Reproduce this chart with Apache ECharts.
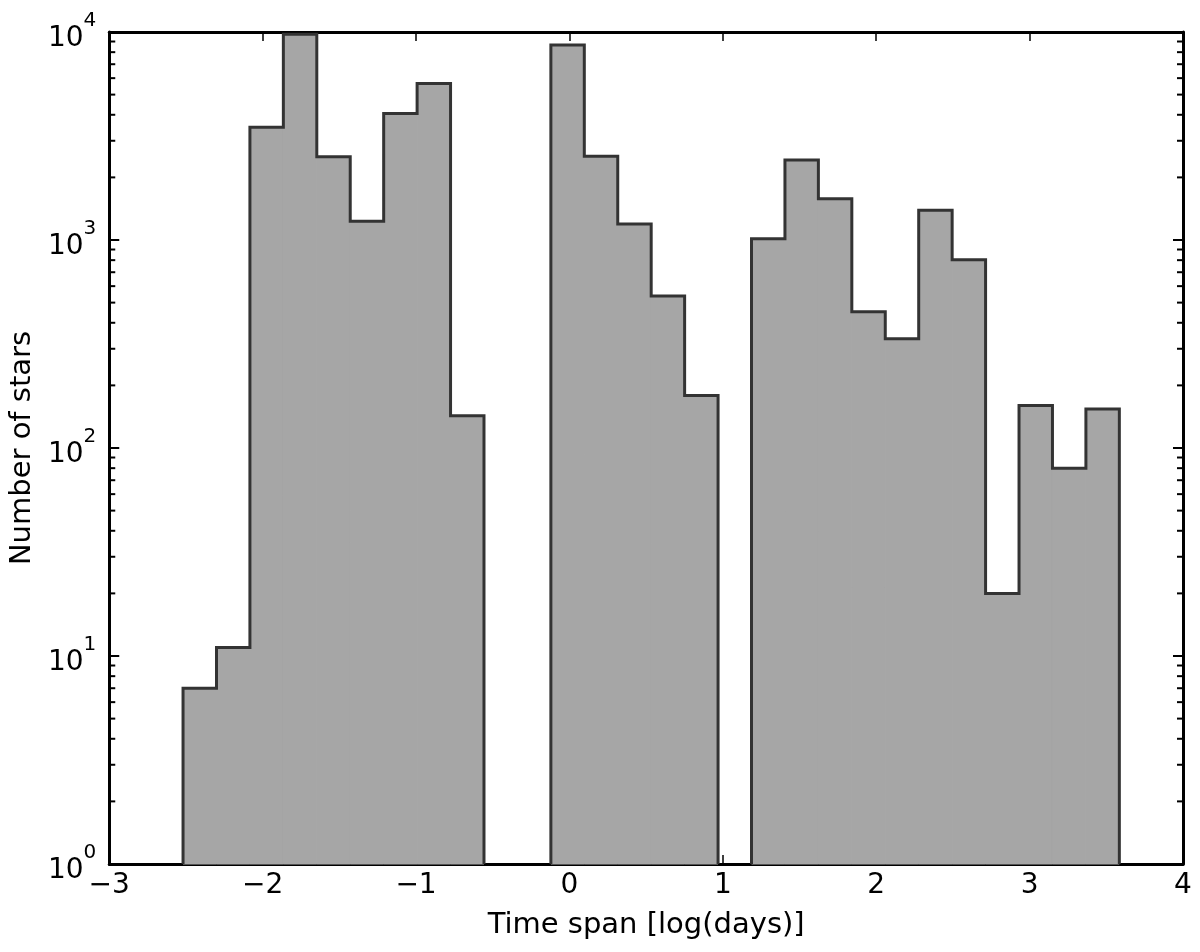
<!DOCTYPE html>
<html>
<head>
<meta charset="utf-8">
<script src="https://cdn.jsdelivr.net/npm/echarts@6/dist/echarts.min.js"></script>
<style>
  html, body { margin: 0; padding: 0; background: #fff; }
  #main { width: 1200px; height: 952px; }
</style>
</head>
<body>
<div id="main"></div>
<script>
// histogram bins (log days) and star counts
const binEdges = [-2.519, -2.301, -2.083, -1.865, -1.647, -1.429, -1.211, -0.993, -0.775, -0.557,
    -0.339, -0.121, 0.097, 0.315, 0.533, 0.751, 0.969, 1.187, 1.405, 1.623,
    1.841, 2.059, 2.277, 2.495, 2.713, 2.931, 3.149, 3.367, 3.585];
const counts = [7, 11, 3480, 9750, 2510, 1230, 4060, 5660, 143, 0,
    0, 8650, 2530, 1195, 538, 179, 0, 1015, 2425, 1580,
    452, 335, 1390, 804, 20, 160, 80, 154];
const xTicks = [-3, -2, -1, 0, 1, 2, 3, 4];
const yTicks = [1, 10, 100, 1000, 10000];
const yMinorTicks = [2, 3, 4, 5, 6, 7, 8, 9,
    20, 30, 40, 50, 60, 70, 80, 90,
    200, 300, 400, 500, 600, 700, 800, 900,
    2000, 3000, 4000, 5000, 6000, 7000, 8000, 9000];

const FONT = 'DejaVu Sans';

let myChart = echarts.init(document.getElementById('main'));

// step outline of the histogram, broken at empty bins
let outline = [];
for (let i = 0; i < counts.length; i++) {
    if (counts[i] <= 0) continue;
    if (i === 0 || counts[i - 1] <= 0) outline.push([binEdges[i], 1]);
    outline.push([binEdges[i], counts[i]]);
    outline.push([binEdges[i + 1], counts[i]]);
    if (i === counts.length - 1 || counts[i + 1] <= 0) {
        outline.push([binEdges[i + 1], 1]);
        outline.push([binEdges[i + 1], '-']);
    }
}

let binData = counts.map((c, i) => [binEdges[i], binEdges[i + 1], c]);

function xLabel(v) {
    return v < 0 ? '\u2212' + (-v) : String(v);
}
function yLabel(v) {
    let e = Math.round(Math.log10(v));
    return '{b|10}{s|' + e + '}';
}

let tickAxisCommon = {
    axisLine: {show: true, onZero: false, lineStyle: {color: '#000', width: 3}},
    splitLine: {show: false}
};

let option = {
    animation: false,
    backgroundColor: '#fff',
    grid: {left: 108, right: 17, top: 32, bottom: 88, containLabel: false},
    xAxis: [{
        type: 'value',
        min: xTicks[0],
        max: xTicks[xTicks.length - 1],
        interval: 1,
        position: 'bottom',
        name: 'Time span [log(days)]',
        nameLocation: 'middle',
        nameGap: 47,
        nameTextStyle: {fontFamily: FONT, fontSize: 29, color: '#000'},
        axisTick: {inside: true, length: 9, lineStyle: {color: '#000', width: 1.5}},
        axisLabel: {
            margin: 8,
            fontFamily: FONT,
            fontSize: 28,
            color: '#000',
            formatter: xLabel
        },
        ...tickAxisCommon
    }, {
        type: 'value',
        min: xTicks[0],
        max: xTicks[xTicks.length - 1],
        interval: 1,
        position: 'top',
        axisTick: {inside: true, length: 9, lineStyle: {color: '#000', width: 1.5}},
        axisLabel: {show: false},
        ...tickAxisCommon
    }],
    yAxis: [{
        type: 'log',
        logBase: 10,
        min: yTicks[0],
        max: yTicks[yTicks.length - 1],
        position: 'left',
        name: 'Number of stars',
        nameLocation: 'middle',
        nameGap: 71,
        nameTextStyle: {fontFamily: FONT, fontSize: 29, color: '#000'},
        axisTick: {inside: true, length: 10, lineStyle: {color: '#000', width: 2}},
        axisLabel: {
            margin: 13,
            formatter: yLabel,
            rich: {
                b: {fontFamily: FONT, fontSize: 28, color: '#000', lineHeight: 42, verticalAlign: 'bottom'},
                s: {fontFamily: FONT, fontSize: 20, color: '#000', lineHeight: 20, verticalAlign: 'top'}
            }
        },
        ...tickAxisCommon
    }, {
        type: 'log',
        logBase: 10,
        min: yTicks[0],
        max: yTicks[yTicks.length - 1],
        position: 'right',
        axisTick: {inside: true, length: 10, lineStyle: {color: '#000', width: 2}},
        axisLabel: {show: false},
        ...tickAxisCommon
    }],
    series: [{
        name: 'fill',
        type: 'custom',
        xAxisIndex: 0,
        yAxisIndex: 0,
        data: binData,
        encode: {x: [0, 1], y: 2},
        renderItem: function (params, api) {
            let c = api.value(2);
            if (!(c > 0)) return null;
            let p1 = api.coord([api.value(0), c]);
            let p2 = api.coord([api.value(1), 1]);
            return {
                type: 'rect',
                shape: {x: p1[0], y: p1[1], width: p2[0] - p1[0], height: p2[1] - p1[1]},
                style: {fill: '#a6a6a6', stroke: '#a6a6a6', lineWidth: 1}
            };
        },
        z: 2
    }, {
        name: 'outline',
        type: 'line',
        xAxisIndex: 0,
        yAxisIndex: 0,
        data: outline,
        symbol: 'none',
        connectNulls: false,
        lineStyle: {color: '#333333', width: 3, join: 'miter', cap: 'butt'},
        z: 3
    }, {
        name: 'minorTicks',
        type: 'custom',
        xAxisIndex: 0,
        yAxisIndex: 0,
        data: yMinorTicks.map(v => [xTicks[0], v]),
        encode: {x: 0, y: 1},
        renderItem: function (params, api) {
            let cs = params.coordSys;
            let y = api.coord([api.value(0), api.value(1)])[1];
            let left = cs.x, right = cs.x + cs.width;
            return {
                type: 'group',
                children: [{
                    type: 'line',
                    shape: {x1: left, y1: y, x2: left + 6, y2: y},
                    style: {stroke: '#000', lineWidth: 2}
                }, {
                    type: 'line',
                    shape: {x1: right - 6, y1: y, x2: right, y2: y},
                    style: {stroke: '#000', lineWidth: 2}
                }]
            };
        },
        z: 4
    }]
};
myChart.setOption(option);
</script>
</body>
</html>
